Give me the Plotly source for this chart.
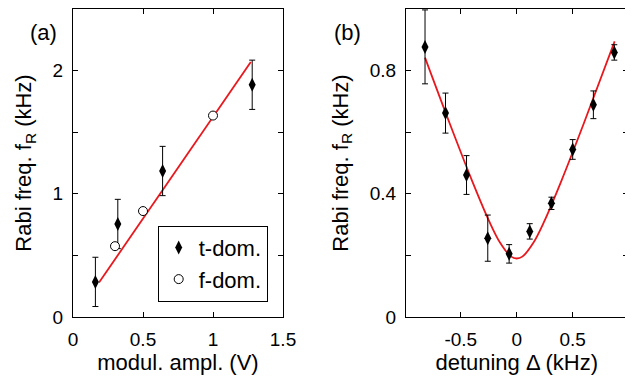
import plotly.graph_objects as go

# ---- panel (a) data ----
a_t_x = [0.16, 0.32, 0.64, 1.28]
a_t_y = [0.285, 0.755, 1.185, 1.885]
a_t_err = [0.2, 0.2, 0.2, 0.2]
a_f_x = [0.30, 0.50, 1.00]
a_f_y = [0.575, 0.86, 1.635]
a_fit_x = [0.186, 1.27]
a_fit_y = [0.28, 2.07]

# ---- panel (b) data ----
b_x = [-0.82, -0.637, -0.449, -0.259, -0.068, 0.116, 0.31, 0.50, 0.685, 0.872]
b_y = [0.877, 0.662, 0.461, 0.256, 0.205, 0.278, 0.369, 0.544, 0.689, 0.859]
b_err = [0.12, 0.065, 0.063, 0.075, 0.03, 0.025, 0.02, 0.032, 0.045, 0.025]
b_fit_x = [-0.82, -0.6, -0.4, -0.25, -0.15, -0.05, 0.0, 0.05, 0.15, 0.25, 0.4, 0.6, 0.875]
b_fit_y = [0.842, 0.629, 0.443, 0.314, 0.242, 0.196, 0.19, 0.196, 0.242, 0.314, 0.443, 0.629, 0.895]

a_xticks = [0, 0.5, 1, 1.5]
a_xtext = ["0", "0.5", "1", "1.5"]
a_yticks = [0, 1, 2]
a_ytext = ["0", "1", "2"]
b_xticks = [-0.5, 0, 0.5]
b_xtext = ["-0.5", "0", "0.5"]
b_yticks = [0, 0.4, 0.8]
b_ytext = ["0", "0.4", "0.8"]

RED = "#e8191e"
FONT = "Liberation Sans, Arial, Helvetica, sans-serif"

# the page body has an 8px margin, so the figure is placed at (8, 8)
W, H, OFF = 625, 373, 8


def px_x(v):
    return (v - OFF) / W


def px_y(v):
    return 1 - (v - OFF) / H


fig = go.Figure()

fig.add_trace(go.Scatter(x=a_fit_x, y=a_fit_y, mode="lines",
                         line=dict(color=RED, width=1.8), showlegend=False,
                         xaxis="x", yaxis="y"))
fig.add_trace(go.Scatter(x=a_t_x, y=a_t_y, mode="markers", name="t-dom.",
                         marker=dict(symbol="diamond-tall", size=10, color="black"),
                         error_y=dict(type="data", array=a_t_err, color="black",
                                      thickness=1, width=3),
                         legendgroup="t", xaxis="x", yaxis="y"))
fig.add_trace(go.Scatter(x=a_f_x, y=a_f_y, mode="markers", name="f-dom.",
                         marker=dict(symbol="circle", size=9, color="white",
                                     line=dict(color="black", width=1)),
                         legendgroup="f", xaxis="x", yaxis="y"))

fig.add_trace(go.Scatter(x=b_fit_x, y=b_fit_y, mode="lines",
                         line=dict(color=RED, width=1.8, shape="spline"),
                         showlegend=False, xaxis="x2", yaxis="y2"))
fig.add_trace(go.Scatter(x=b_x, y=b_y, mode="markers",
                         marker=dict(symbol="diamond-tall", size=10, color="black"),
                         error_y=dict(type="data", array=b_err, color="black",
                                      thickness=1, width=3),
                         showlegend=False, xaxis="x2", yaxis="y2"))

ax_common = dict(showline=True, linecolor="black", linewidth=1, mirror="ticks",
                 ticks="inside", ticklen=5, tickcolor="black", tickwidth=1,
                 showgrid=False, zeroline=False, tickmode="array",
                 automargin=False, ticklabelstandoff=5,
                 tickfont=dict(size=19, color="black", family=FONT),
                 title_font=dict(size=22, color="black", family=FONT))

ydom = [px_y(317), px_y(9)]

fig.update_layout(
    width=W, height=H,
    margin=dict(l=0, r=0, t=0, b=0),
    paper_bgcolor="white", plot_bgcolor="white",
    font=dict(family=FONT, color="black"),
    xaxis=dict(domain=[px_x(73), px_x(283)], range=[0, 1.5], anchor="y",
               tickvals=a_xticks, ticktext=a_xtext,
               title=dict(text="modul. ampl. (V)", standoff=4), **ax_common),
    yaxis=dict(domain=ydom, range=[0, 2.5], anchor="x",
               tickvals=a_yticks, ticktext=a_ytext,
               minor=dict(tickvals=[0.5, 1.5], ticks="inside", ticklen=5,
                          tickcolor="black", tickwidth=1, showgrid=False),
               title=dict(text="Rabi freq. f<sub>R</sub> (kHz)", standoff=14), **ax_common),
    xaxis2=dict(domain=[px_x(406), px_x(627.5)], range=[-0.99, 0.99], anchor="y2",
                tickvals=b_xticks, ticktext=b_xtext,
                title=dict(text="detuning Δ (kHz)", standoff=4), **ax_common),
    yaxis2=dict(domain=ydom, range=[0, 1.0], anchor="x2",
                tickvals=b_yticks, ticktext=b_ytext,
                minor=dict(tickvals=[0.2, 0.6], ticks="inside", ticklen=5,
                           tickcolor="black", tickwidth=1, showgrid=False),
                title=dict(text="Rabi freq. f<sub>R</sub> (kHz)", standoff=15), **ax_common),
    legend=dict(x=px_x(157.7), y=px_y(225.7), xanchor="left", yanchor="top",
                bordercolor="black", borderwidth=1, bgcolor="white",
                font=dict(size=22, color="black", family=FONT),
                traceorder="grouped", tracegroupgap=0),
    annotations=[
        dict(text="(a)", x=px_x(28), y=px_y(18), xref="paper", yref="paper",
             showarrow=False, font=dict(size=22, color="black", family=FONT)),
        dict(text="(b)", x=px_x(347), y=px_y(18), xref="paper", yref="paper",
             showarrow=False, font=dict(size=22, color="black", family=FONT)),
    ],
)

fig.write_html("out.html")
